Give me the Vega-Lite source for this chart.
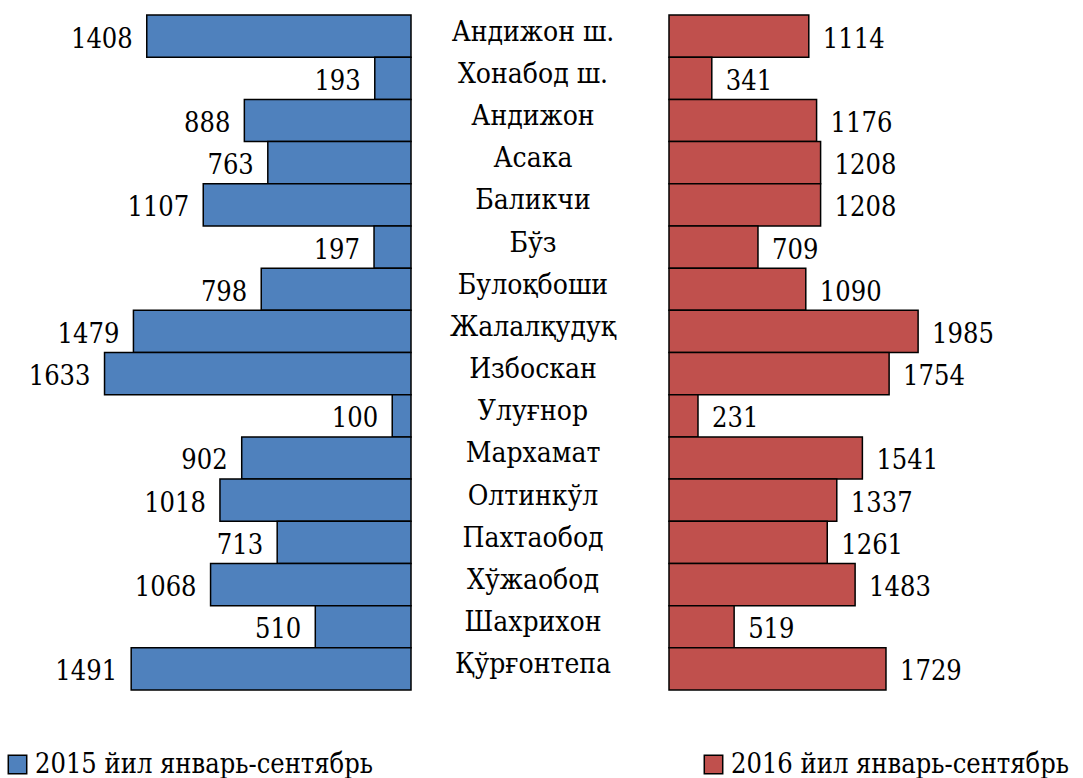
{
  "$schema": "https://vega.github.io/schema/vega-lite/v6.json",
  "padding": {"left": 0, "top": 14, "right": 0, "bottom": 0},
  "background": "white",
  "spacing": 0,
  "bounds": "flush",
  "config": {"view": {"stroke": null}, "font": "DejaVu Serif Condensed", "legend": {"labelFont": "DejaVu Serif Condensed"}},
  "data": {"values": [
    {"name": "Андижон ш.", "v2015": 1408, "v2016": 1114},
    {"name": "Хонабод ш.", "v2015": 193, "v2016": 341},
    {"name": "Андижон", "v2015": 888, "v2016": 1176},
    {"name": "Асака", "v2015": 763, "v2016": 1208},
    {"name": "Баликчи", "v2015": 1107, "v2016": 1208},
    {"name": "Бўз", "v2015": 197, "v2016": 709},
    {"name": "Булоқбоши", "v2015": 798, "v2016": 1090},
    {"name": "Жалалқудуқ", "v2015": 1479, "v2016": 1985},
    {"name": "Избоскан", "v2015": 1633, "v2016": 1754},
    {"name": "Улуғнор", "v2015": 100, "v2016": 231},
    {"name": "Мархамат", "v2015": 902, "v2016": 1541},
    {"name": "Олтинкўл", "v2015": 1018, "v2016": 1337},
    {"name": "Пахтаобод", "v2015": 713, "v2016": 1261},
    {"name": "Хўжаобод", "v2015": 1068, "v2016": 1483},
    {"name": "Шахрихон", "v2015": 510, "v2016": 519},
    {"name": "Қўрғонтепа", "v2015": 1491, "v2016": 1729}
  ]},
  "resolve": {"scale": {"x": "independent", "color": "independent"}, "legend": {"color": "independent"}},
  "hconcat": [
    {
      "width": 411,
      "height": 675,
      "encoding": {
        "y": {"field": "name", "type": "nominal", "sort": null, "axis": null, "scale": {"paddingInner": 0, "paddingOuter": 0}},
        "x": {"field": "v2015", "type": "quantitative", "axis": null, "scale": {"domain": [0, 2190], "reverse": true, "nice": false, "zero": true}}
      },
      "layer": [
        {
          "mark": {"type": "bar", "stroke": "black", "strokeWidth": 1.5},
          "encoding": {
            "color": {"datum": "2015 йил январь-сентябрь", "type": "nominal",
              "scale": {"range": ["#4F81BD"]},
              "legend": {"orient": "none", "legendX": 4, "legendY": 736, "title": null, "symbolType": "square", "symbolSize": 340, "symbolStrokeColor": "black", "symbolStrokeWidth": 1.5, "labelFontSize": 27, "labelColor": "black", "labelLimit": 0, "labelOffset": 4, "padding": 0}}
          }
        },
        {
          "mark": {"type": "text", "align": "right", "baseline": "alphabetic", "dx": -14, "dy": 11.5, "font": "DejaVu Serif Condensed", "fontSize": 27, "color": "black"},
          "encoding": {"text": {"field": "v2015", "type": "quantitative"}}
        }
      ]
    },
    {
      "width": 258,
      "height": 675,
      "mark": {"type": "text", "align": "center", "baseline": "alphabetic", "dy": 4.5, "font": "DejaVu Serif Condensed", "fontSize": 28, "color": "black"},
      "encoding": {
        "y": {"field": "name", "type": "nominal", "sort": null, "axis": null, "scale": {"paddingInner": 0, "paddingOuter": 0}},
        "x": {"datum": 0, "type": "quantitative", "axis": null, "scale": {"domain": [-1, 1.115], "nice": false, "zero": false}},
        "text": {"field": "name", "type": "nominal"}
      }
    },
    {
      "width": 414,
      "height": 675,
      "encoding": {
        "y": {"field": "name", "type": "nominal", "sort": null, "axis": null, "scale": {"paddingInner": 0, "paddingOuter": 0}},
        "x": {"field": "v2016", "type": "quantitative", "axis": null, "scale": {"domain": [0, 3299], "nice": false, "zero": true}}
      },
      "layer": [
        {
          "mark": {"type": "bar", "stroke": "black", "strokeWidth": 1.5},
          "encoding": {
            "color": {"datum": "2016 йил январь-сентябрь", "type": "nominal",
              "scale": {"range": ["#C0504D"]},
              "legend": {"orient": "none", "legendX": 31, "legendY": 736, "title": null, "symbolType": "square", "symbolSize": 340, "symbolStrokeColor": "black", "symbolStrokeWidth": 1.5, "labelFontSize": 27, "labelColor": "black", "labelLimit": 0, "labelOffset": 4, "padding": 0}}
          }
        },
        {
          "mark": {"type": "text", "align": "left", "baseline": "alphabetic", "dx": 14, "dy": 11.5, "font": "DejaVu Serif Condensed", "fontSize": 27, "color": "black"},
          "encoding": {"text": {"field": "v2016", "type": "quantitative"}}
        }
      ]
    }
  ]
}
